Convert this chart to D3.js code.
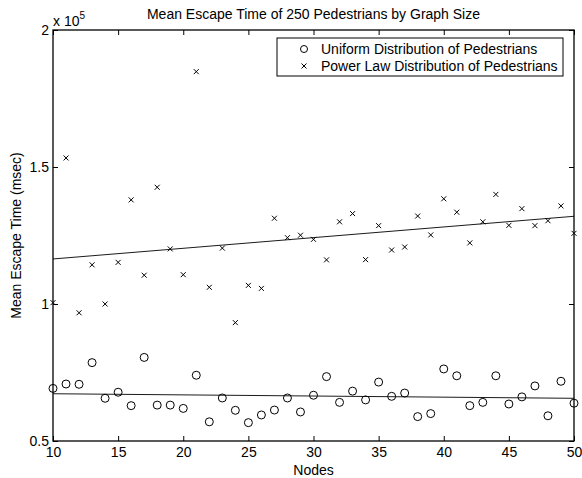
<!DOCTYPE html>
<html>
<head>
<meta charset="utf-8">
<script src="https://cdn.jsdelivr.net/npm/d3@7"></script>
<style>
  body { margin: 0; background: #fff; }
  text { font-family: "Liberation Sans", Arial, Helvetica, sans-serif; fill: #000; }
</style>
</head>
<body>
<div id="chart"></div>
<script>
// nodes on the x axis
const nodes = [10, 11, 12, 13, 14, 15, 16, 17, 18, 19, 20, 21, 22, 23, 24, 25, 26, 27, 28, 29, 30,
    31, 32, 33, 34, 35, 36, 37, 38, 39, 40, 41, 42, 43, 44, 45, 46, 47, 48, 49, 50];

// mean escape time, in units of 10^5 msec
const uniformTimes = [0.692, 0.708, 0.707, 0.786, 0.656, 0.678, 0.629, 0.805, 0.631, 0.631, 0.619,
    0.740, 0.570, 0.657, 0.612, 0.567, 0.595, 0.613, 0.657, 0.606, 0.667,
    0.735, 0.641, 0.682, 0.650, 0.715, 0.663, 0.675, 0.589, 0.600, 0.763,
    0.738, 0.629, 0.641, 0.738, 0.635, 0.661, 0.701, 0.592, 0.718, 0.638];

const powerTimes = [1.005, 1.533, 0.968, 1.143, 1.000, 1.152, 1.380, 1.105, 1.426, 1.201, 1.107,
    1.848, 1.061, 1.204, 0.932, 1.068, 1.057, 1.313, 1.242, 1.251, 1.236,
    1.161, 1.300, 1.330, 1.162, 1.286, 1.197, 1.208, 1.321, 1.252, 1.384,
    1.335, 1.223, 1.300, 1.400, 1.287, 1.348, 1.286, 1.304, 1.358, 1.258];

const xTicks = [10, 15, 20, 25, 30, 35, 40, 45, 50];
const yTicks = [0.5, 1, 1.5, 2];
const seriesNames = ["Uniform Distribution of Pedestrians", "Power Law Distribution of Pedestrians"];

const width = 582, height = 478;
const margin = { top: 30, right: 8, bottom: 37, left: 53 };
const w = width - margin.left - margin.right;
const h = height - margin.top - margin.bottom;
const fontSize = "14px";

const svg = d3.select("#chart")
    .append("svg")
    .attr("width", width)
    .attr("height", height);

const g = svg.append("g")
    .attr("transform", "translate(" + margin.left + "," + margin.top + ")");

const x = d3.scaleLinear().domain([10, 50]).range([0, w]);
const y = d3.scaleLinear().domain([0.5, 2]).range([h, 0]);

// least squares line through a series
function fit(xs, ys) {
    const mx = d3.mean(xs), my = d3.mean(ys);
    const b = d3.sum(xs, (d, i) => (d - mx) * (ys[i] - my)) / d3.sum(xs, d => (d - mx) * (d - mx));
    return [[10, my + b * (10 - mx)], [50, my + b * (50 - mx)]];
}

// axes, matlab style ticks pointing inwards
function styleAxis(sel) {
    sel.select(".domain").remove();
    sel.selectAll("line").attr("stroke", "#000").attr("stroke-width", 1);
    sel.selectAll("text").style("font-size", fontSize);
}

g.append("g")
    .attr("transform", "translate(0," + h + ")")
    .call(d3.axisBottom(x).tickValues(xTicks).tickSizeInner(-5).tickSizeOuter(0).tickPadding(6.5).tickFormat(d3.format("d")))
    .call(styleAxis);

g.append("g")
    .call(d3.axisTop(x).tickValues(xTicks).tickSizeInner(-5).tickSizeOuter(0).tickFormat(""))
    .call(styleAxis);

g.append("g")
    .call(d3.axisLeft(y).tickValues(yTicks).tickSizeInner(-5).tickSizeOuter(0).tickPadding(4).tickFormat(d => d))
    .call(styleAxis);

g.append("g")
    .attr("transform", "translate(" + w + ",0)")
    .call(d3.axisRight(y).tickValues(yTicks).tickSizeInner(-5).tickSizeOuter(0).tickFormat(""))
    .call(styleAxis);

g.append("rect")
    .attr("width", w)
    .attr("height", h)
    .attr("fill", "none")
    .attr("stroke", "#000")
    .attr("stroke-width", 1.3);

// exponent label
const expo = g.append("text")
    .attr("x", 0)
    .attr("y", -4)
    .style("font-size", fontSize);
expo.append("tspan").text("x 10");
expo.append("tspan").attr("dy", -7).style("font-size", "10px").text("5");

// fit lines
const line = d3.line().x(d => x(d[0])).y(d => y(d[1]));

[uniformTimes, powerTimes].forEach(function(s) {
    g.append("path")
        .attr("d", line(fit(nodes, s)))
        .attr("fill", "none")
        .attr("stroke", "#000")
        .attr("stroke-width", 0.9);
});

// uniform points
g.append("g")
    .selectAll("circle")
    .data(uniformTimes)
    .enter()
    .append("circle")
    .attr("cx", (d, i) => x(nodes[i]))
    .attr("cy", d => y(d))
    .attr("r", 4)
    .attr("fill", "none")
    .attr("stroke", "#000")
    .attr("stroke-width", 1);

// power law points
const cross = "M-2.5,-2.5L2.5,2.5M-2.5,2.5L2.5,-2.5";

g.append("g")
    .selectAll("path")
    .data(powerTimes)
    .enter()
    .append("path")
    .attr("transform", (d, i) => "translate(" + x(nodes[i]) + "," + y(d) + ")")
    .attr("d", cross)
    .attr("fill", "none")
    .attr("stroke", "#000")
    .attr("stroke-width", 1);

// title and axis labels
svg.append("text")
    .attr("x", margin.left + w / 2)
    .attr("y", 19)
    .attr("text-anchor", "middle")
    .style("font-size", fontSize)
    .text("Mean Escape Time of 250 Pedestrians by Graph Size");

svg.append("text")
    .attr("x", margin.left + w / 2)
    .attr("y", 475)
    .attr("text-anchor", "middle")
    .style("font-size", fontSize)
    .text("Nodes");

svg.append("text")
    .attr("transform", "translate(21," + (margin.top + h / 2) + ") rotate(-90)")
    .attr("text-anchor", "middle")
    .style("font-size", fontSize)
    .text("Mean Escape Time (msec)");

// legend
const legend = svg.append("g").attr("transform", "translate(277,38)");

legend.append("rect")
    .attr("width", 286)
    .attr("height", 38)
    .attr("fill", "#fff")
    .attr("stroke", "#000")
    .attr("stroke-width", 1);

legend.append("circle")
    .attr("cx", 27)
    .attr("cy", 11)
    .attr("r", 3.5)
    .attr("fill", "none")
    .attr("stroke", "#000");

legend.append("path")
    .attr("transform", "translate(27,28)")
    .attr("d", cross)
    .attr("fill", "none")
    .attr("stroke", "#000");

legend.selectAll("text")
    .data(seriesNames)
    .enter()
    .append("text")
    .attr("x", 44)
    .attr("y", (d, i) => 11 + i * 17)
    .attr("dy", "0.35em")
    .style("font-size", fontSize)
    .text(d => d);
</script>
</body>
</html>
